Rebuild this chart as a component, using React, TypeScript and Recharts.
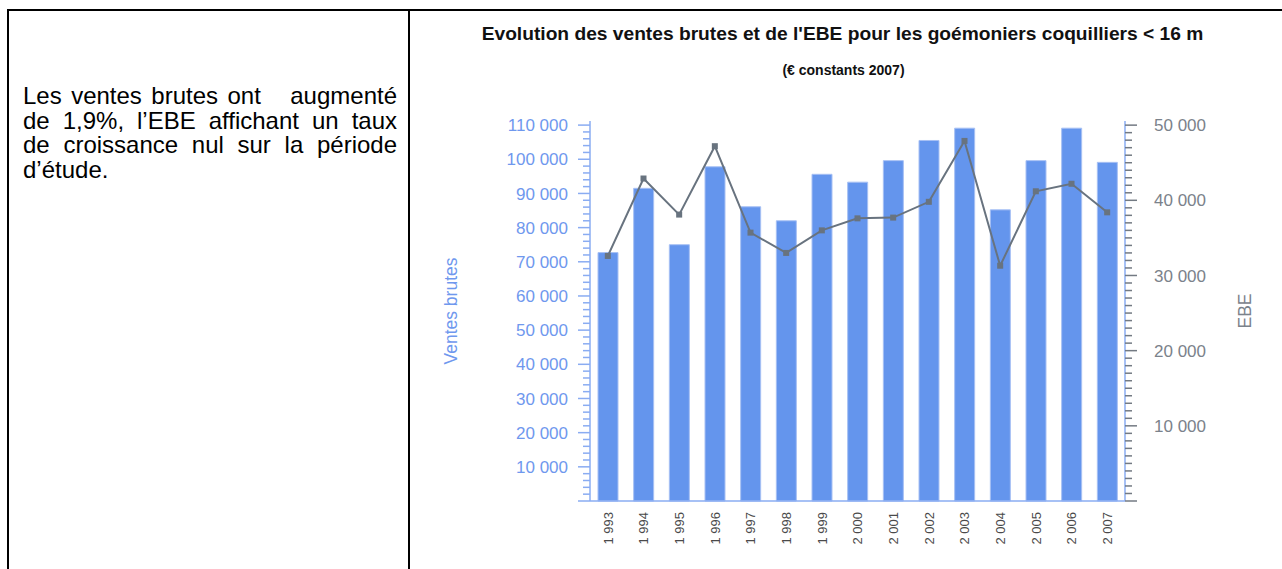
import React from 'react';
import { ComposedChart, Bar, Line, XAxis, YAxis } from 'recharts';

// ---- Data ----
const years = ['1 993', '1 994', '1 995', '1 996', '1 997', '1 998', '1 999', '2 000', '2 001', '2 002', '2 003', '2 004', '2 005', '2 006', '2 007'];
const ventesBrutes = [72700, 91500, 75000, 97800, 86100, 82000, 95600, 93300, 99600, 105500, 109100, 85200, 99600, 109100, 99100];
const ebe = [32600, 42900, 38100, 47200, 35700, 33000, 36000, 37600, 37700, 39800, 47900, 31300, 41200, 42200, 38400];
const leftMajorTicks = [0, 10000, 20000, 30000, 40000, 50000, 60000, 70000, 80000, 90000, 100000, 110000];
const rightMajorTicks = [0, 10000, 20000, 30000, 40000, 50000];
const LEFT_MINOR_STEP = 2000;
const RIGHT_MINOR_STEP = 1000;
const LEFT_MAX = 111200;
const RIGHT_MAX = 50550;

const paragraphLines = [
  ['Les ventes brutes ont', 'augmenté'],
  ["de 1,9%, l\u2019EBE affichant un taux"],
  ['de croissance nul sur la période'],
  ["d\u2019étude."],
];
const titleText = "Evolution des ventes brutes et de l'EBE pour les goémoniers coquilliers < 16 m";
const subtitleText = '(€ constants 2007)';
const leftAxisTitle = 'Ventes brutes';
const rightAxisTitle = 'EBE';

const data = years.map((year, i) => ({ year, ventes: ventesBrutes[i], ebe: ebe[i] }));

const buildTicks = (majors: number[], step: number) => {
  const out: number[] = [];
  const max = majors[majors.length - 1];
  for (let v = 0; v <= max; v += step) out.push(v);
  return out;
};
const leftTicks = buildTicks(leftMajorTicks, LEFT_MINOR_STEP);
const rightTicks = buildTicks(rightMajorTicks, RIGHT_MINOR_STEP);

const fmt = (v: number) => String(v).replace(/\B(?=(\d{3})+(?!\d))/g, ' ');

// ---- Styles ----
const FONT = '"Liberation Sans", Arial, Helvetica, sans-serif';
const BAR_FILL = '#6495ED';
const BAR_STROKE = '#a7c0f4';
const FRAME = '#8aacf2';
const LEFT_TEXT = '#6f98ee';
const RIGHT_TEXT = '#7b828b';
const RIGHT_TICK = '#737a83';
const LINE_COLOR = '#68737f';

const LeftTick = (props: any) => {
  const { x, y, payload } = props;
  const v = payload.value as number;
  const major = leftMajorTicks.includes(v);
  return (
    <g>
      <line x1={x - (major ? 12 : 7)} x2={x} y1={y} y2={y} stroke={FRAME} strokeWidth={1.5} />
      {major && v !== 0 && (
        <text x={x - 22} y={y} dy="0.36em" textAnchor="end" fontSize={17} fontFamily={FONT} fill={LEFT_TEXT}>
          {fmt(v)}
        </text>
      )}
    </g>
  );
};

const RightTick = (props: any) => {
  const { x, y, payload } = props;
  const v = payload.value as number;
  const major = rightMajorTicks.includes(v);
  return (
    <g>
      <line x1={x} x2={x + (major ? 12 : 7)} y1={y} y2={y} stroke={RIGHT_TICK} strokeWidth={1.5} />
      {major && v !== 0 && (
        <text x={x + 29} y={y} dy="0.36em" textAnchor="start" fontSize={17} fontFamily={FONT} fill={RIGHT_TEXT}>
          {fmt(v)}
        </text>
      )}
    </g>
  );
};

const XTick = (props: any) => {
  const { x, y, payload } = props;
  return (
    <g transform={`translate(${x},${y + 11})`}>
      <text transform="rotate(-90)" textAnchor="end" dy="0.36em" fontSize={13} fontFamily={FONT} fill="#4a4a4a">
        {payload.value}
      </text>
    </g>
  );
};

const SquareDot = (props: any) => {
  const { cx, cy } = props;
  if (cx == null || cy == null) return null;
  return <rect x={cx - 3} y={cy - 3} width={6} height={6} fill={LINE_COLOR} />;
};

const LeftTitle = (props: any) => {
  const vb = props.viewBox || {};
  const cx = vb.x + vb.width - 139;
  const cy = vb.y + vb.height / 2;
  return (
    <text x={cx} y={cy} transform={`rotate(-90, ${cx}, ${cy})`} textAnchor="middle" dy="0.36em" fontSize={17.5} fontFamily={FONT} fill={LEFT_TEXT}>
      {leftAxisTitle}
    </text>
  );
};

const RightTitle = (props: any) => {
  const vb = props.viewBox || {};
  const cx = vb.x + 120;
  const cy = vb.y + vb.height / 2;
  return (
    <text x={cx} y={cy} transform={`rotate(-90, ${cx}, ${cy})`} textAnchor="middle" dy="0.36em" fontSize={17.5} fontFamily={FONT} fill={RIGHT_TEXT}>
      {rightAxisTitle}
    </text>
  );
};

export default function App() {
  return (
    <div style={{ position: 'absolute', left: 0, top: 0, width: 1282, height: 569, background: '#fff', overflow: 'hidden', fontFamily: FONT }}>
      {/* table borders */}
      <div style={{ position: 'absolute', left: 7, top: 9, width: 1275, height: 2, background: '#000' }} />
      <div style={{ position: 'absolute', left: 7, top: 9, width: 2, height: 560, background: '#000' }} />
      <div style={{ position: 'absolute', left: 408, top: 9, width: 2, height: 560, background: '#000' }} />

      {/* paragraph */}
      <div style={{ position: 'absolute', left: 23, top: 84, width: 374, fontSize: 24, lineHeight: '24.7px', color: '#000' }}>
        {paragraphLines.map((parts, i) => {
          const last = i === paragraphLines.length - 1;
          return (
            <div key={i} style={{ textAlign: last ? 'left' : 'justify', textAlignLast: last ? 'left' : 'justify' } as any}>
              {parts.map((p, j) => (
                <React.Fragment key={j}>
                  {j > 0 && <span style={{ display: 'inline-block', width: 20 }} />}
                  {j > 0 ? ' ' : ''}
                  {p}
                </React.Fragment>
              ))}
            </div>
          );
        })}
      </div>

      {/* titles */}
      <div style={{ position: 'absolute', left: 402, top: 23.75, width: 881, textAlign: 'center', fontSize: 19.2, lineHeight: '19.2px', fontWeight: 'bold', color: '#111', whiteSpace: 'nowrap' }}>
        {titleText}
      </div>
      <div style={{ position: 'absolute', left: 402, top: 63, width: 883, textAlign: 'center', fontSize: 14, lineHeight: '14px', fontWeight: 'bold', color: '#111', whiteSpace: 'nowrap' }}>
        {subtitleText}
      </div>

      {/* chart */}
      <div style={{ position: 'absolute', left: 411, top: 100 }}>
        <ComposedChart width={871} height={469} data={data} margin={{ top: 21, right: 37, bottom: 0, left: 59 }}>
          <XAxis
            dataKey="year"
            interval={0}
            tickLine={false}
            tickSize={0}
            tickMargin={0}
            height={68}
            axisLine={{ stroke: FRAME, strokeWidth: 1.5 }}
            tick={<XTick />}
          />
          <XAxis
            xAxisId="top"
            dataKey="year"
            orientation="top"
            height={0}
            tick={false}
            tickLine={false}
            axisLine={{ stroke: FRAME, strokeWidth: 1.5 }}
          />
          <YAxis
            yAxisId="left"
            orientation="left"
            width={120}
            domain={[0, LEFT_MAX]}
            ticks={leftTicks}
            interval={0}
            tickLine={false}
            tickSize={0}
            tickMargin={0}
            axisLine={{ stroke: FRAME, strokeWidth: 1.5 }}
            tick={<LeftTick />}
            label={{ content: <LeftTitle /> } as any}
          />
          <YAxis
            yAxisId="right"
            orientation="right"
            width={120}
            domain={[0, RIGHT_MAX]}
            ticks={rightTicks}
            interval={0}
            tickLine={false}
            tickSize={0}
            tickMargin={0}
            axisLine={{ stroke: FRAME, strokeWidth: 1.5 }}
            tick={<RightTick />}
            label={{ content: <RightTitle /> } as any}
          />
          <Bar yAxisId="left" dataKey="ventes" fill={BAR_FILL} stroke={BAR_STROKE} strokeWidth={1} barSize={20} isAnimationActive={false} />
          <Line
            yAxisId="right"
            type="linear"
            dataKey="ebe"
            stroke={LINE_COLOR}
            strokeWidth={2}
            dot={<SquareDot />}
            activeDot={false}
            isAnimationActive={false}
          />
        </ComposedChart>
      </div>
    </div>
  );
}
